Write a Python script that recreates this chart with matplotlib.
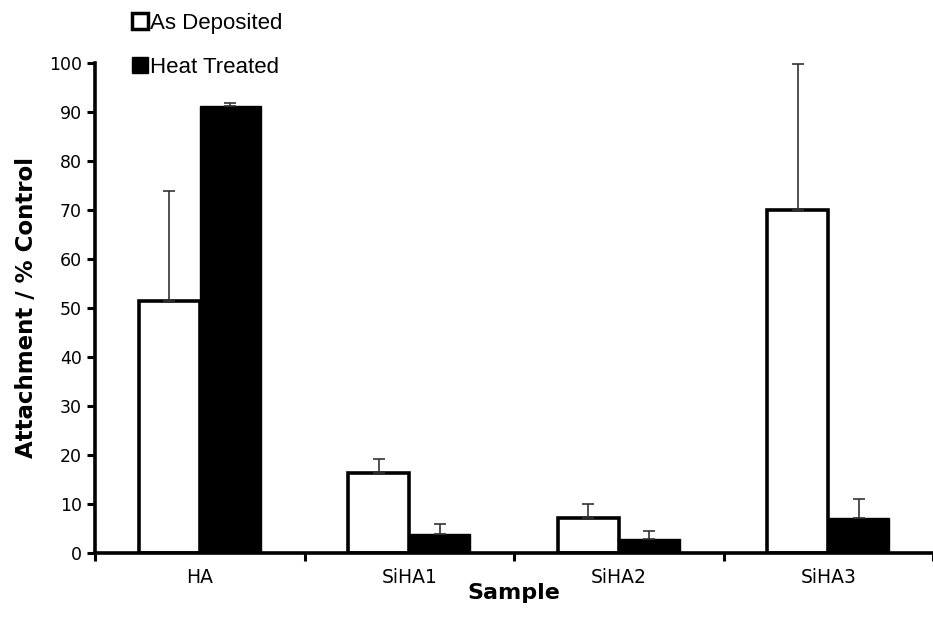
import matplotlib.pyplot as plt
from matplotlib.lines import Line2D
import numpy as np

samples = ["HA", "SiHA1", "SiHA2", "SiHA3"]
as_deposited = [51.4, 16.3, 7.1, 70.0]
as_deposited_err = [22.4, 2.9, 2.8, 29.8]
heat_treated = [91.2, 3.8, 2.8, 7.1]
heat_treated_err = [0.7, 2.2, 1.6, 3.9]

fig = plt.figure(figsize=(9.33, 6.31), dpi=100)
ax = fig.add_axes([95 / 933, 78 / 631, 838 / 933, 490 / 631])

x = np.arange(len(samples))
w = 0.29
err_kw = dict(elinewidth=1.2, capsize=4, capthick=1.2, ecolor='#333333')

ax.bar(x - w / 2, as_deposited, w, color='white', edgecolor='black', linewidth=2.6,
       yerr=[np.zeros(4), as_deposited_err], error_kw=err_kw, zorder=2)
ax.bar(x + w / 2, heat_treated, w, color='black', edgecolor='black', linewidth=1,
       yerr=[np.zeros(4), heat_treated_err], error_kw=err_kw, zorder=2)

ax.set_xlim(-0.5, 3.453)
ax.set_ylim(0, 100)
ax.set_yticks(range(0, 101, 10))
ax.set_xticks(x)
ax.set_xticklabels(samples)
ax.set_xticks(np.arange(-0.5, 3.6, 1), minor=True)
ax.tick_params(axis='x', which='major', length=0, pad=11, labelsize=13.5)
ax.tick_params(axis='x', which='minor', length=6, width=2.2, direction='out')
ax.tick_params(axis='y', length=6, width=2.2, labelsize=12.5)

for s in ['top', 'right']:
    ax.spines[s].set_visible(False)
for s in ['left', 'bottom']:
    ax.spines[s].set_linewidth(2.6)

ax.set_ylabel("Attachment / % Control", fontsize=16.5, fontweight='bold', labelpad=8)
ax.set_xlabel("Sample", fontsize=16, fontweight='bold', labelpad=-3)

handles = [
    Line2D([], [], marker='s', linestyle='none', markersize=11, markerfacecolor='white',
           markeredgecolor='black', markeredgewidth=2.5),
    Line2D([], [], marker='s', linestyle='none', markersize=12, markerfacecolor='black',
           markeredgecolor='black'),
]
fig.legend(handles, ["As Deposited", "Heat Treated"], loc='upper left',
           bbox_to_anchor=(123 / 933, 1 - 4 / 631), frameon=False,
           prop={'family': 'Liberation Sans', 'size': 16}, handlelength=0.7,
           handletextpad=0.1, labelspacing=1.05, borderaxespad=0)

fig.savefig("out.png", dpi=100)
